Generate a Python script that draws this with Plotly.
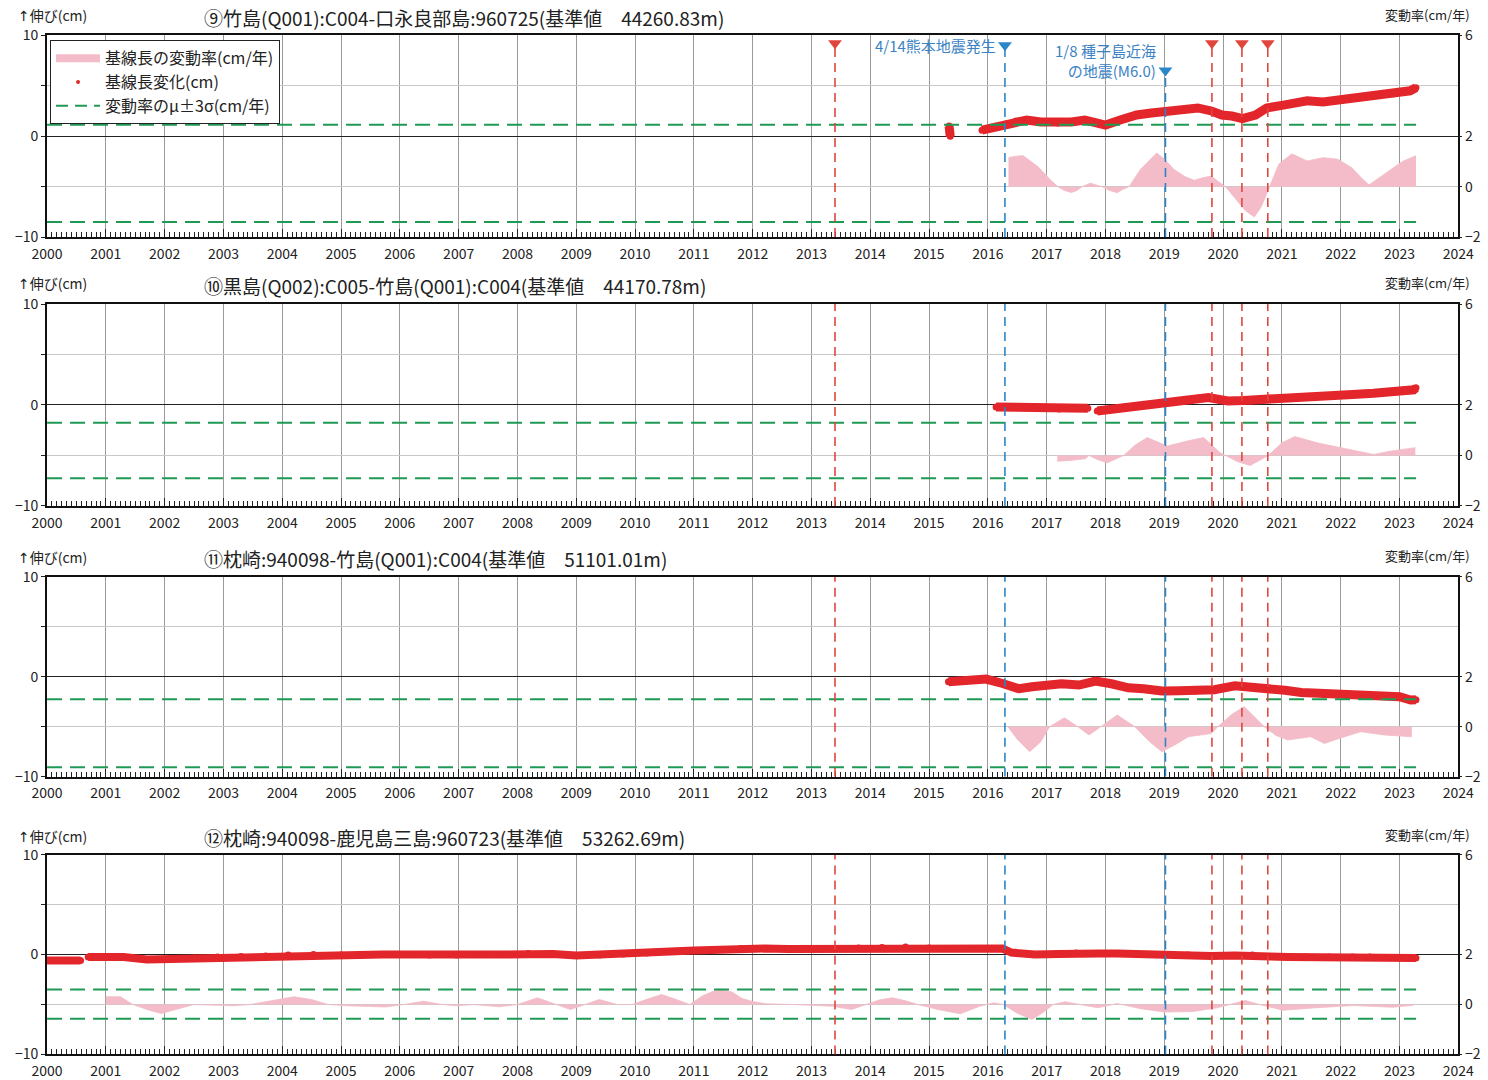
import plotly.graph_objects as go

W, H = 1488, 1080

# ---------------- data ----------------
titles = [
    "⑨竹島(Q001):C004-口永良部島:960725(基準値　44260.83m)",
    "⑩黒島(Q002):C005-竹島(Q001):C004(基準値　44170.78m)",
    "⑪枕崎:940098-竹島(Q001):C004(基準値　51101.01m)",
    "⑫枕崎:940098-鹿児島三島:960723(基準値　53262.69m)",
]
year_ticks = list(range(2000, 2025))

event_red = [2013.40, 2019.81, 2020.32, 2020.76]
event_blue = [2016.29, 2019.02]
event_blue_text = ["4/14熊本地震発生", "1/8 種子島近海<br>の地震(M6.0)"]

# baseline change (cm)
p1_x = [2015.34, 2015.35, 2015.36, None, 2015.90, 2016.05, 2016.31, 2016.48, 2016.66, 2016.90, 2017.19, 2017.42,
        2017.65, 2017.85, 2018.00, 2018.25, 2018.53, 2018.78, 2018.99, 2019.30, 2019.57, 2019.80, 2019.98, 2020.15,
        2020.33, 2020.55, 2020.74, 2021.05, 2021.43, 2021.70, 2022.00, 2022.30, 2022.59, 2022.90, 2023.18, 2023.28]
p1_y = [1.0, 0.6, 0.0, None, 0.6, 0.8, 1.2, 1.5, 1.6, 1.4, 1.3, 1.4,
        1.6, 1.3, 1.1, 1.6, 2.1, 2.3, 2.4, 2.6, 2.8, 2.5, 2.1, 2.0,
        1.75, 2.1, 2.8, 3.1, 3.5, 3.4, 3.6, 3.8, 4.0, 4.2, 4.5, 4.8]

p2_x = [2016.14, 2016.40, 2016.65, 2016.95, 2017.21, 2017.45, 2017.70, None, 2017.86, 2018.10, 2018.34, 2018.70,
        2019.04, 2019.40, 2019.75, 2020.08, 2020.35, 2020.59, 2021.00, 2021.43, 2021.90, 2022.20, 2022.56, 2022.90,
        2023.24, 2023.28]
p2_y = [-0.2, -0.25, -0.27, -0.35, -0.4, -0.35, -0.33, None, -0.6, -0.4, -0.17, 0.05,
        0.27, 0.5, 0.73, 0.4, 0.45, 0.5, 0.7, 0.83, 0.95, 1.05, 1.17, 1.3,
        1.5, 1.7]

p3_x = [2015.33, 2015.60, 2015.97, 2016.25, 2016.53, 2016.75, 2016.98, 2017.25, 2017.55, 2017.83, 2018.10, 2018.39,
        2018.65, 2018.96, 2019.25, 2019.52, 2019.85, 2020.20, 2020.50, 2020.76, 2021.05, 2021.33, 2021.75, 2022.17,
        2022.45, 2022.74, 2023.00, 2023.19, 2023.28]
p3_y = [-0.5, -0.35, -0.23, -0.67, -1.2, -1.0, -0.83, -0.7, -0.83, -0.43, -0.7, -1.1,
        -1.2, -1.43, -1.4, -1.43, -1.3, -0.9, -1.0, -1.23, -1.35, -1.57, -1.65, -1.77,
        -1.8, -1.9, -2.0, -2.33, -2.3]

p4_x = [2000.00, 2000.30, 2000.57, None, 2000.70, 2001.00, 2001.30, 2001.70, 2002.10, 2002.50, 2002.90, 2003.30,
        2003.72, 2004.10, 2004.53, 2005.00, 2005.34, 2005.70, 2006.15, 2006.50, 2006.96, 2007.40, 2007.77, 2008.18,
        2008.60, 2009.00, 2009.40, 2009.80, 2010.20, 2010.60, 2011.00, 2011.42, 2011.80, 2012.20, 2012.60, 2013.00,
        2013.40, 2013.80, 2014.20, 2014.60, 2015.00, 2015.40, 2015.80, 2016.25, 2016.40, 2016.80, 2017.20, 2017.50,
        2017.90, 2018.20, 2018.60, 2019.00, 2019.40, 2019.80, 2020.20, 2020.50, 2020.80, 2021.10, 2021.40, 2021.80,
        2022.20, 2022.50, 2022.80, 2023.10, 2023.28]
p4_y = [-0.6, -0.6, -0.6, None, -0.25, -0.25, -0.25, -0.5, -0.45, -0.35, -0.25, -0.2,
        -0.15, -0.05, 0.0, -0.05, -0.05, 0.0, 0.0, -0.05, -0.05, 0.0, 0.0, 0.1,
        0.05, -0.1, -0.05, 0.05, 0.15, 0.3, 0.4, 0.5, 0.6, 0.6, 0.55, 0.55,
        0.6, 0.65, 0.7, 0.75, 0.65, 0.6, 0.6, 0.6, 0.2, 0.0, 0.05, 0.15,
        0.1, 0.1, 0.0, 0.0, -0.05, -0.15, -0.1, -0.05, -0.2, -0.25, -0.25, -0.25,
        -0.25, -0.25, -0.3, -0.35, -0.35]

# rate of change (cm/yr)
p1r_x = [2016.35, 2016.45, 2016.60, 2016.85, 2017.05, 2017.19, 2017.30, 2017.42, 2017.52, 2017.60, 2017.74, 2017.94,
         2018.07, 2018.20, 2018.30, 2018.40, 2018.60, 2018.87, 2019.00, 2019.16, 2019.35, 2019.51, 2019.65, 2019.80,
         2019.92, 2020.04, 2020.20, 2020.38, 2020.53, 2020.65, 2020.79, 2020.95, 2021.17, 2021.43, 2021.70, 2021.95,
         2022.19, 2022.35, 2022.48, 2022.65, 2022.85, 2023.05, 2023.28]
p1r_y = [1.15, 1.2, 1.23, 0.8, 0.3, 0.0, -0.15, -0.23, -0.15, 0.0, 0.14, 0.0,
         -0.15, -0.24, -0.1, 0.0, 0.7, 1.33, 1.1, 0.69, 0.4, 0.25, 0.35, 0.42,
         0.2, 0.0, -0.45, -0.95, -1.2, -0.8, 0.0, 0.9, 1.3, 1.02, 1.15, 1.09,
         0.75, 0.35, 0.07, 0.35, 0.7, 1.0, 1.23]

p2r_x = [2017.18, 2017.40, 2017.66, 2017.72, 2017.86, 2018.03, 2018.31, 2018.50, 2018.71, 2019.05, 2019.35, 2019.67,
         2019.95, 2020.04, 2020.25, 2020.46, 2020.77, 2021.00, 2021.22, 2021.60, 2021.98, 2022.30, 2022.56, 2022.84,
         2023.27]
p2r_y = [-0.23, -0.2, -0.13, 0.0, -0.16, -0.29, 0.0, 0.4, 0.71, 0.37, 0.55, 0.71,
         0.11, 0.0, -0.25, -0.4, 0.0, 0.5, 0.75, 0.5, 0.31, 0.15, 0.04, 0.17,
         0.31]

p3r_x = [2016.34, 2016.50, 2016.71, 2016.90, 2017.05, 2017.30, 2017.53, 2017.72, 2017.92, 2018.20, 2018.50, 2018.75,
         2018.96, 2019.20, 2019.41, 2019.80, 2019.91, 2020.15, 2020.36, 2020.70, 2020.90, 2021.10, 2021.49, 2021.72,
         2022.00, 2022.34, 2022.74, 2023.21]
p3r_y = [0.0, -0.5, -1.0, -0.6, 0.0, 0.36, 0.0, -0.33, 0.0, 0.47, 0.0, -0.6,
         -1.0, -0.7, -0.4, -0.27, 0.0, 0.5, 0.8, 0.0, -0.35, -0.53, -0.4, -0.67,
         -0.45, -0.2, -0.33, -0.4]

p4r_x = [2001.00, 2001.25, 2001.46, 2001.70, 2001.94, 2002.27, 2002.50, 2002.90, 2003.16, 2003.45,
         2003.80, 2004.20, 2004.50, 2004.78, 2005.10, 2005.40, 2005.75, 2006.07, 2006.40, 2006.72,
         2006.96, 2007.25, 2007.69, 2008.00, 2008.34, 2008.66, 2008.90, 2009.15, 2009.39, 2009.70,
         2009.95, 2010.20, 2010.45, 2010.69, 2010.93, 2011.15, 2011.42, 2011.65, 2011.82, 2012.00,
         2012.23, 2012.71, 2013.36, 2013.68, 2013.92, 2014.15, 2014.37, 2014.60, 2014.81, 2015.15,
         2015.53, 2015.86, 2016.10, 2016.26, 2016.50, 2016.75, 2016.95, 2017.11, 2017.31, 2017.55,
         2017.87, 2018.20, 2018.60, 2019.00, 2019.49, 2019.90, 2020.13, 2020.38, 2020.62, 2021.02,
         2021.58, 2022.23, 2022.88, 2023.24]
p4r_y = [0.31, 0.31, 0.0, -0.2, -0.36, -0.16, 0.0, -0.03, -0.05, 0.0,
         0.15, 0.31, 0.2, 0.0, -0.05, -0.08, -0.1, 0.0, 0.13, 0.0,
         -0.05, 0.0, -0.09, 0.0, 0.27, 0.0, -0.2, 0.0, 0.2, 0.0,
         0.0, 0.21, 0.4, 0.21, 0.0, 0.35, 0.62, 0.5, 0.24, 0.12,
         0.03, 0.0, -0.07, -0.2, 0.0, 0.18, 0.27, 0.15, 0.0, -0.2,
         -0.37, -0.07, 0.07, 0.0, -0.35, -0.6, -0.3, 0.0, 0.11, 0.0,
         -0.13, 0.04, -0.17, -0.3, -0.28, -0.13, 0.0, 0.16, 0.0, -0.23,
         -0.13, -0.04, -0.11, -0.03]

# mu +/- 3 sigma of rate (cm/yr)
sigma_upper = [2.45, 1.30, 1.10, 0.60]
sigma_lower = [-1.40, -0.90, -1.62, -0.57]
sigma_x = [2000.0, 2023.28]

change_x = [p1_x, p2_x, p3_x, p4_x]
change_y = [p1_y, p2_y, p3_y, p4_y]
rate_x = [p1r_x, p2r_x, p3r_x, p4r_x]
rate_y = [p1r_y, p2r_y, p3r_y, p4r_y]

# ---------------- styling / layout ----------------
RED = "#e3262b"
PINK = "#f3bcc8"
GREEN = "#1f9a55"
EV_RED = "#e0463c"
EV_BLUE = "#2a86c8"
FONT = "Noto Sans CJK JP, Liberation Sans, sans-serif"


# target pixel positions -> figure pixel positions (the captured page is shrunk ~2% about its centre)
def px(x):
    return (x - 13.9) / 0.9803


def py(y):
    return (y - 10.7) / 0.9804


panels_px = [(35, 237), (304, 506), (577, 777), (855, 1055)]
title_px = [17, 285, 559, 838]
band_width = [9, 9, 9, 8]
X0, X1 = px(45), 1474

fig = go.Figure()
layout = dict(width=W, height=H, margin=dict(l=0, r=0, t=0, b=0), autosize=False,
              paper_bgcolor="white", plot_bgcolor="white",
              font=dict(family=FONT, size=13, color="#222"),
              showlegend=True)
shapes, annotations = [], []

for i in range(4):
    n = i + 1
    top, bot = py(panels_px[i][0]), py(panels_px[i][1])
    xa = "x" if n == 1 else f"x{n}"
    ya = "y" if n == 1 else f"y{n}"
    yr = f"y{n+4}"
    layout[f"xaxis{'' if n == 1 else n}"] = dict(
        domain=[X0 / W, X1 / W], anchor=ya, range=[2000, 2024],
        tickvals=year_ticks, ticktext=[str(v) for v in year_ticks],
        showgrid=True, gridcolor="#9a9a9a", gridwidth=1,
        ticks="inside", ticklen=8, tickcolor="#222", tickwidth=1, ticklabelstandoff=3,
        minor=dict(dtick=1 / 12, ticks="inside", ticklen=5, tickcolor="#222", tickwidth=1, showgrid=False),
        showline=True, linecolor="#111", linewidth=2, mirror=True,
        tickfont=dict(size=14, color="#222"), zeroline=False, fixedrange=True)
    layout[f"yaxis{'' if n == 1 else n}"] = dict(
        domain=[1 - bot / H, 1 - top / H], anchor=xa, range=[-10, 10],
        tickvals=[-10, -5, 0, 5, 10], ticktext=["−10", "", "0", "", "10"],
        showgrid=True, gridcolor="#c8c8c8", gridwidth=1,
        zeroline=True, zerolinecolor="#222", zerolinewidth=1,
        ticks="outside", ticklen=4, tickcolor="#222",
        showline=True, linecolor="#111", linewidth=2, mirror=True,
        tickfont=dict(size=14, color="#222"), fixedrange=True)
    layout[f"yaxis{n+4}"] = dict(
        overlaying=ya, anchor=xa, side="right", range=[-2, 6],
        tickvals=[-2, 0, 2, 6], ticktext=["−2", "0", "2", "6"],
        showgrid=False, zeroline=False, ticks="outside", ticklen=3, tickcolor="#222",
        tickfont=dict(size=14, color="#222"), fixedrange=True)

    # rate fill
    fig.add_trace(go.Scatter(x=rate_x[i], y=rate_y[i], xaxis=xa, yaxis=yr, mode="lines",
                             line=dict(color=PINK, width=0.8), fill="tozeroy", fillcolor=PINK,
                             showlegend=False, hoverinfo="skip"))
    # sigma lines
    for s in (sigma_upper[i], sigma_lower[i]):
        fig.add_trace(go.Scatter(x=sigma_x, y=[s, s], xaxis=xa, yaxis=yr, mode="lines",
                                 line=dict(color=GREEN, width=2, dash="15px,8px"),
                                 showlegend=False, hoverinfo="skip"))
    # baseline change
    fig.add_trace(go.Scatter(x=change_x[i], y=change_y[i], xaxis=xa, yaxis=ya, mode="lines+markers",
                             line=dict(color=RED, width=band_width[i]), marker=dict(color=RED, size=7),
                             connectgaps=False, showlegend=False, hoverinfo="skip"))

    # event lines
    for d in event_red:
        shapes.append(dict(type="line", xref=xa, yref=ya, x0=d, x1=d, y0=-10, y1=(9.3 if n == 1 else 10),
                           line=dict(color=EV_RED, width=1.6, dash="9px,6px")))
    for k, d in enumerate(event_blue):
        y1 = 10 if n != 1 else (9.3 if k == 0 else 6.6)
        shapes.append(dict(type="line", xref=xa, yref=ya, x0=d, x1=d, y0=-10, y1=y1,
                           line=dict(color=EV_BLUE, width=1.6, dash="9px,6px")))

    # panel texts
    annotations.append(dict(x=0, y=1 - py(title_px[i] - 2) / H, xref="paper", yref="paper",
                            text="<span style='font-family:DejaVu Sans'>↑</span>伸び(cm)",
                            showarrow=False, xanchor="left", yanchor="middle", font=dict(size=14, color="#222")))
    annotations.append(dict(x=px(200) / W, y=1 - py(title_px[i]) / H, xref="paper", yref="paper", text=titles[i],
                            showarrow=False, xanchor="left", yanchor="middle", font=dict(size=19, color="#222")))
    annotations.append(dict(x=1.0, y=1 - py(title_px[i] - 3) / H, xref="paper", yref="paper", text="変動率(cm/年)",
                            showarrow=False, xanchor="right", yanchor="middle", font=dict(size=13, color="#222")))

# event triangles (panel 1)
fig.add_trace(go.Scatter(x=event_red, y=[9.2] * len(event_red), xaxis="x", yaxis="y", mode="markers",
                         marker=dict(symbol="triangle-down", size=12, color=EV_RED), showlegend=False,
                         hoverinfo="skip"))
fig.add_trace(go.Scatter(x=event_blue, y=[9.0, 6.5], xaxis="x", yaxis="y", mode="markers",
                         marker=dict(symbol="triangle-down", size=12, color=EV_BLUE), showlegend=False,
                         hoverinfo="skip"))
annotations.append(dict(x=event_blue[0] - 0.12, y=9.0, xref="x", yref="y", text=event_blue_text[0],
                        showarrow=False, xanchor="right", yanchor="middle", font=dict(size=15, color="#3b82c4")))
annotations.append(dict(x=event_blue[1] - 0.12, y=7.5, xref="x", yref="y", text=event_blue_text[1],
                        showarrow=False, xanchor="right", yanchor="middle", align="right",
                        font=dict(size=15, color="#3b82c4")))

# legend entries
fig.add_trace(go.Scatter(x=[None], y=[None], xaxis="x", yaxis="y", mode="lines", name="基線長の変動率(cm/年)",
                         line=dict(color=PINK, width=8), legendgroup="a"))
fig.add_trace(go.Scatter(x=[None], y=[None], xaxis="x", yaxis="y", mode="markers", name="基線長変化(cm)",
                         marker=dict(color=RED, size=4), legendgroup="b"))
fig.add_trace(go.Scatter(x=[None], y=[None], xaxis="x", yaxis="y", mode="lines", name="変動率のμ±3σ(cm/年)",
                         line=dict(color=GREEN, width=2, dash="12px,7px"), legendgroup="c"))

layout["legend"] = dict(x=px(48) / W, y=1 - py(40) / H, xanchor="left", yanchor="top", bgcolor="white",
                        bordercolor="#222", borderwidth=1, font=dict(size=16, color="#222"),
                        tracegroupgap=0, itemwidth=44)
layout["shapes"] = shapes
layout["annotations"] = annotations
fig.update_layout(**layout)

fig.write_html("out.html", config={"displayModeBar": False},
               post_script="document.body.style.margin='0';document.body.style.padding='0';"
                           "document.body.style.overflow='hidden';")
